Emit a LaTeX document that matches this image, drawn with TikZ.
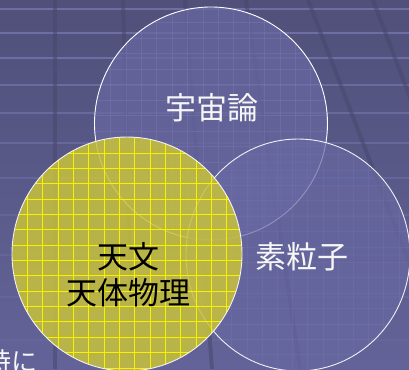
\documentclass[tikz,border=0pt]{standalone}
\usepackage{fontspec}
\newfontfamily\jp{Noto Sans CJK JP}
\definecolor{bgtop}{HTML}{50507A}
\definecolor{bgbot}{HTML}{636399}
\definecolor{stripecol}{HTML}{6E6EA4}
\definecolor{darkcol}{HTML}{47476D}
\definecolor{circfill}{HTML}{6868A2}
\definecolor{yfill}{HTML}{C8C23C}
\definecolor{ygridcol}{HTML}{F6F200}
\definecolor{fgrid}{HTML}{8484BC}
\tikzset{
  stripe/.style={fill=stripecol},
  darkline/.style={draw=darkcol, line width=4pt, opacity=0.55},
  purplecirc/.style={fill=circfill, fill opacity=0.72},
  outline/.style={draw=white, line width=0.9pt},
  facetgrid/.style={draw=fgrid, line width=0.6pt, opacity=0.3},
  yellowgrid/.style={draw=ygridcol, line width=0.9pt},
  label/.style={font=\jp\fontsize{31}{36}\selectfont, inner sep=0pt, align=center}
}
\begin{document}
\begin{tikzpicture}[x=1pt,y=-1pt]
\useasboundingbox (0,0) rectangle (409,369);
\clip (0,0) rectangle (409,369);
% background
\fill[top color=bgtop, bottom color=bgbot] (0,0) rectangle (409,369);
\foreach \yy/\op in {9/1,33/1,58/1,85/0.9,113/0.8,143/0.7,178/0.6,215/0.5,255/0.45,297/0.4,340/0.35}
  \fill[stripe, opacity=\op] (0,\yy-1.2) rectangle (409,\yy+1.2);
\draw[darkline] (55,0) -- (55,369);
\draw[darkline] (123,0) -- (133,369);
\draw[darkline] (185,0) -- (212,369);
\draw[darkline] (246,0) -- (300,369);
\draw[darkline] (308,0) -- (450,369);
\draw[darkline] (373,0) -- (513,369);
% top circle
\fill[purplecirc] (211,123.5) circle [radius=116.5pt];
\begin{scope}
  \clip (211,123.5) circle [radius=116.5pt];
  \foreach \i in {1,...,15} {
    \draw[facetgrid] (95+\i*15.4,0) -- (95+\i*15.4,250);
    \draw[facetgrid] (90,7+\i*15.5) -- (330,7+\i*15.5);
  }
\end{scope}
\draw[outline] (211,123.5) circle [radius=116.5pt];
% right circle
\fill[purplecirc] (298,255) ellipse [x radius=112pt, y radius=116pt];
\begin{scope}
  \clip (298,255) ellipse [x radius=112pt, y radius=116pt];
  \foreach \i in {1,...,15} {
    \draw[facetgrid, opacity=0.18] (186+\i*15.2,130) -- (186+\i*15.2,380);
    \draw[facetgrid, opacity=0.18] (180,139+\i*15.4) -- (415,139+\i*15.4);
  }
\end{scope}
\draw[outline, draw opacity=0.9] (298,255) ellipse [x radius=112pt, y radius=116pt];
% yellow circle
\fill[yfill, fill opacity=0.86] (127,254) ellipse [x radius=115pt, y radius=117pt];
\begin{scope}
  \clip (127,254) ellipse [x radius=115pt, y radius=117pt];
  \foreach \i in {1,...,15} {
    \draw[yellowgrid] (12+\i*15.33,130) -- (12+\i*15.33,380);
    \draw[yellowgrid] (5,137.7+\i*15.35) -- (250,137.7+\i*15.35);
  }
\end{scope}
\draw[outline, draw=white!90!gray] (127,254) ellipse [x radius=115pt, y radius=117pt];
% labels
\node[label, text=white!93!gray] (cosmo) at (211.5,108) {宇宙論};
\node[label, text=white!93!gray] (particle) at (302,257) {素粒子};
\node[label, text=black] (astro) at (128.5,275) {天文\\天体物理};
\node[font=\jp\fontsize{26}{30}\selectfont, text=white!93!gray, inner sep=0pt, anchor=base] (toki) at (12,371) {時に};
\end{tikzpicture}
\end{document}
